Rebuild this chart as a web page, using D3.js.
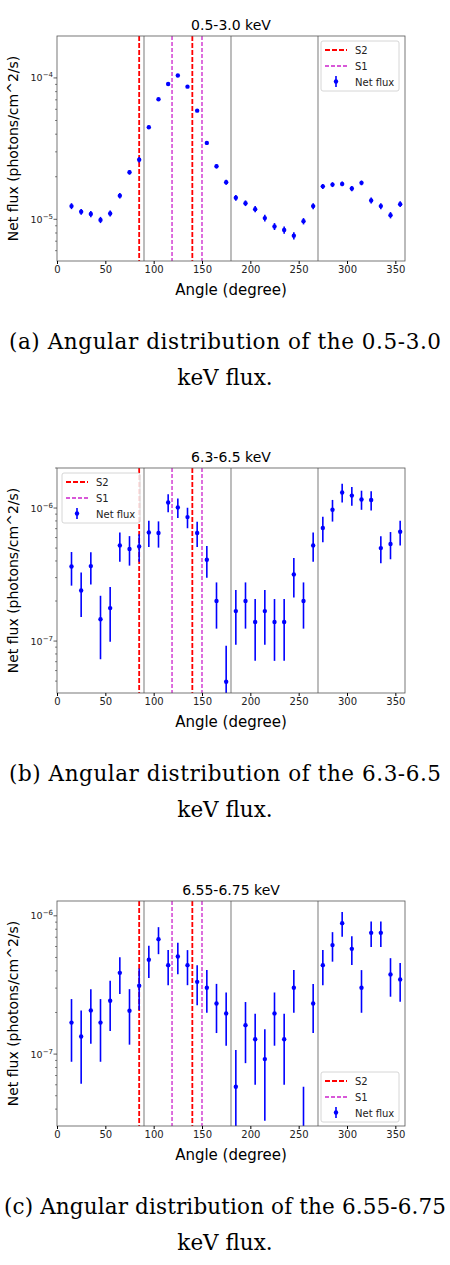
<!DOCTYPE html>
<html><head><meta charset="utf-8">
<script src="https://cdn.jsdelivr.net/npm/d3@7"></script>
<style>body{margin:0;background:#fff}</style></head>
<body><svg id="c" width="450" height="1265"></svg>
<script>
const angles = d3.range(15, 360, 10);
const xTicks = [0,50,100,150,200,250,300,350];
const titles = ["0.5-3.0 keV","6.3-6.5 keV","6.55-6.75 keV"];
const captions = [["(a) Angular distribution of the 0.5-3.0","keV flux."],["(b) Angular distribution of the 6.3-6.5","keV flux."],["(c) Angular distribution of the 6.55-6.75","keV flux."]];
const fluxA = [1.24e-5,1.13e-5,1.09e-5,0.99e-5,1.10e-5,1.47e-5,2.15e-5,2.64e-5,4.48e-5,7.06e-5,9.07e-5,1.04e-4,8.68e-5,5.87e-5,3.47e-5,2.37e-5,1.83e-5,1.42e-5,1.30e-5,1.18e-5,1.02e-5,8.9e-6,8.4e-6,7.66e-6,9.7e-6,1.24e-5,1.71e-5,1.76e-5,1.78e-5,1.65e-5,1.81e-5,1.36e-5,1.24e-5,1.07e-5,1.28e-5];
const errA = [0.6e-6,0.55e-6,0.55e-6,0.5e-6,0.55e-6,0.65e-6,0.8e-6,1.2e-6,1.2e-6,1.5e-6,1.9e-6,2.0e-6,1.8e-6,1.4e-6,1.0e-6,0.8e-6,0.75e-6,0.65e-6,0.6e-6,0.6e-6,0.55e-6,0.5e-6,0.5e-6,0.45e-6,0.5e-6,0.6e-6,0.7e-6,0.7e-6,0.7e-6,0.7e-6,0.7e-6,0.65e-6,0.6e-6,0.55e-6,0.6e-6];
const fluxB = [3.64e-7,2.40e-7,3.66e-7,1.46e-7,1.77e-7,5.24e-7,4.92e-7,5.15e-7,6.56e-7,6.49e-7,1.10e-6,1.01e-6,8.55e-7,6.49e-7,4.09e-7,2.00e-7,4.94e-8,1.68e-7,2.00e-7,1.39e-7,1.68e-7,1.39e-7,1.39e-7,3.17e-7,2.00e-7,5.24e-7,7.07e-7,9.71e-7,1.31e-6,1.24e-6,1.16e-6,1.15e-6,5.0e-7,5.36e-7,6.63e-7];
const errB = [1.03e-7,0.88e-7,1.0e-7,0.73e-7,0.78e-7,1.3e-7,1.23e-7,1.2e-7,1.47e-7,1.45e-7,1.7e-7,1.7e-7,1.5e-7,1.4e-7,1.1e-7,0.76e-7,4.3e-8,0.74e-7,0.76e-7,0.68e-7,0.74e-7,0.68e-7,0.68e-7,1.04e-7,0.76e-7,1.3e-7,1.54e-7,1.8e-7,2.1e-7,2.0e-7,1.9e-7,1.9e-7,1.15e-7,1.24e-7,1.4e-7];
const fluxC = [1.69e-7,1.34e-7,2.07e-7,1.69e-7,2.43e-7,3.87e-7,2.06e-7,3.12e-7,4.81e-7,6.78e-7,4.40e-7,5.08e-7,4.40e-7,3.33e-7,3.02e-7,2.32e-7,1.97e-7,5.81e-8,1.62e-7,1.28e-7,9.2e-8,1.97e-7,1.28e-7,3.02e-7,1.0e-8,2.32e-7,4.40e-7,6.14e-7,8.85e-7,5.77e-7,3.02e-7,7.53e-7,7.53e-7,3.77e-7,3.47e-7];
const errC = [0.81e-7,0.73e-7,0.88e-7,0.81e-7,0.96e-7,1.15e-7,0.89e-7,1.04e-7,1.26e-7,1.5e-7,1.25e-7,1.3e-7,1.25e-7,1.07e-7,1.03e-7,0.9e-7,0.82e-7,4.9e-8,0.76e-7,0.68e-7,0.59e-7,0.82e-7,0.68e-7,1.03e-7,4.8e-8,0.9e-7,1.25e-7,1.48e-7,1.8e-7,1.36e-7,1.03e-7,1.57e-7,1.57e-7,1.17e-7,1.08e-7];
const s2Lines = [85,140], s1Lines = [119,150], grayLines = [90,180,270];
const yDomains = [[5.07e-6,1.98e-4],[4.07e-8,2.0e-6],[3.02e-8,1.28e-6]];
const decadeTicks = [[-5,-4],[-7,-6],[-7,-6]];

const panels = [
 {flux:fluxA, err:errA, top:36, bottom:261, legend:[321,41]},
 {flux:fluxB, err:errB, top:468, bottom:693, legend:[62,473]},
 {flux:fluxC, err:errC, top:901, bottom:1126, legend:[321,1072]}
];
const svg = d3.select("#c");
const L=57, R=405;
const x = d3.scaleLinear().domain([0,360]).range([L,R]);
panels.forEach((p,i)=>{
  const g = svg.append("g");
  const y = d3.scaleLog().domain(yDomains[i]).range([p.bottom,p.top]);
  const clip = "clip"+i;
  g.append("clipPath").attr("id",clip).append("rect").attr("x",L).attr("y",p.top).attr("width",R-L).attr("height",p.bottom-p.top);
  const pg = g.append("g").attr("clip-path",`url(#${clip})`);
  grayLines.forEach(v=>pg.append("line").attr("x1",x(v)).attr("x2",x(v)).attr("y1",p.top).attr("y2",p.bottom).attr("stroke","#999").attr("stroke-width",1.3));
  s2Lines.forEach(v=>pg.append("line").attr("x1",x(v)).attr("x2",x(v)).attr("y1",p.top).attr("y2",p.bottom).attr("stroke","red").attr("stroke-width",1.8).attr("stroke-dasharray","5,2"));
  s1Lines.forEach(v=>pg.append("line").attr("x1",x(v)).attr("x2",x(v)).attr("y1",p.top).attr("y2",p.bottom).attr("stroke","#cc22cc").attr("stroke-width",1.3).attr("stroke-dasharray","4,2"));
  angles.forEach((a,j)=>{
    const v=p.flux[j], e=p.err[j];
    const lo = Math.max(v-e, 1e-12);
    pg.append("line").attr("x1",x(a)).attr("x2",x(a)).attr("y1",y(lo)).attr("y2",y(v+e)).attr("stroke","blue").attr("stroke-width",1.6);
    pg.append("circle").attr("cx",x(a)).attr("cy",y(v)).attr("r",2.2).attr("fill","blue");
  });
  g.append("rect").attr("x",L).attr("y",p.top).attr("width",R-L).attr("height",p.bottom-p.top).attr("fill","none").attr("stroke","#555").attr("stroke-width",0.8);
  const xa = g.append("g").attr("transform",`translate(0,${p.bottom})`).call(d3.axisBottom(x).tickValues(xTicks).tickSize(3).tickPadding(2));
  xa.select(".domain").remove();
  xa.selectAll("text").attr("font-family","DejaVu Sans").attr("font-size",10).attr("fill","#222");
  const minors=[];
  for(let d=-9; d<=-3; d++) for(let m=2;m<=9;m++){const t=m*Math.pow(10,d); if(t>=yDomains[i][0]&&t<=yDomains[i][1]) minors.push(t);}
  minors.forEach(t=>g.append("line").attr("x1",L-2).attr("x2",L).attr("y1",y(t)).attr("y2",y(t)).attr("stroke","#333").attr("stroke-width",0.6));
  decadeTicks[i].forEach(d=>{
    const t=Math.pow(10,d);
    g.append("line").attr("x1",L-3.5).attr("x2",L).attr("y1",y(t)).attr("y2",y(t)).attr("stroke","#333").attr("stroke-width",0.8);
    const tx=g.append("text").attr("x",L-4).attr("y",y(t)+3.5).attr("text-anchor","end").attr("font-family","DejaVu Sans").attr("font-size",9.5).attr("fill","#222").text("10");
    tx.append("tspan").attr("dy",-4).attr("font-size",7).text("\u2212"+(-d));
  });
  g.append("text").attr("x",(L+R)/2).attr("y",p.top-6).attr("text-anchor","middle").attr("font-family","DejaVu Sans").attr("font-size",14).text(titles[i]);
  g.append("text").attr("x",(L+R)/2).attr("y",p.bottom+34).attr("text-anchor","middle").attr("font-family","DejaVu Sans").attr("font-size",15).text("Angle (degree)");
  g.append("text").attr("transform",`translate(18,${(p.top+p.bottom)/2}) rotate(-90)`).attr("text-anchor","middle").attr("font-family","DejaVu Sans").attr("font-size",14).text("Net flux (photons/cm^2/s)");
  const [lx,ly]=p.legend;
  const lg=g.append("g").attr("transform",`translate(${lx},${ly})`);
  lg.append("rect").attr("width",78).attr("height",50).attr("rx",2).attr("fill","white").attr("fill-opacity",0.85).attr("stroke","#ccc").attr("stroke-width",0.8);
  lg.append("line").attr("x1",4).attr("x2",26).attr("y1",9).attr("y2",9).attr("stroke","red").attr("stroke-width",1.8).attr("stroke-dasharray","5,2");
  lg.append("line").attr("x1",4).attr("x2",26).attr("y1",25).attr("y2",25).attr("stroke","#cc22cc").attr("stroke-width",1.3).attr("stroke-dasharray","4,2");
  lg.append("line").attr("x1",15).attr("x2",15).attr("y1",35).attr("y2",46).attr("stroke","blue").attr("stroke-width",1.6);
  lg.append("circle").attr("cx",15).attr("cy",40.5).attr("r",2.2).attr("fill","blue");
  [["S2",9],["S1",25],["Net flux",41]].forEach(([t,yy])=>lg.append("text").attr("x",34).attr("y",yy+3.5).attr("font-family","DejaVu Sans").attr("font-size",10).attr("fill","#222").text(t));
  const cy0 = p.bottom+88;
  captions[i].forEach((t,k)=>svg.append("text").attr("x",225).attr("y",cy0+k*36).attr("text-anchor","middle").attr("font-family","DejaVu Serif").attr("font-size",21.5).attr("textLength",k===0?(i===2?442:432):null).text(t));
});
</script></body></html>
